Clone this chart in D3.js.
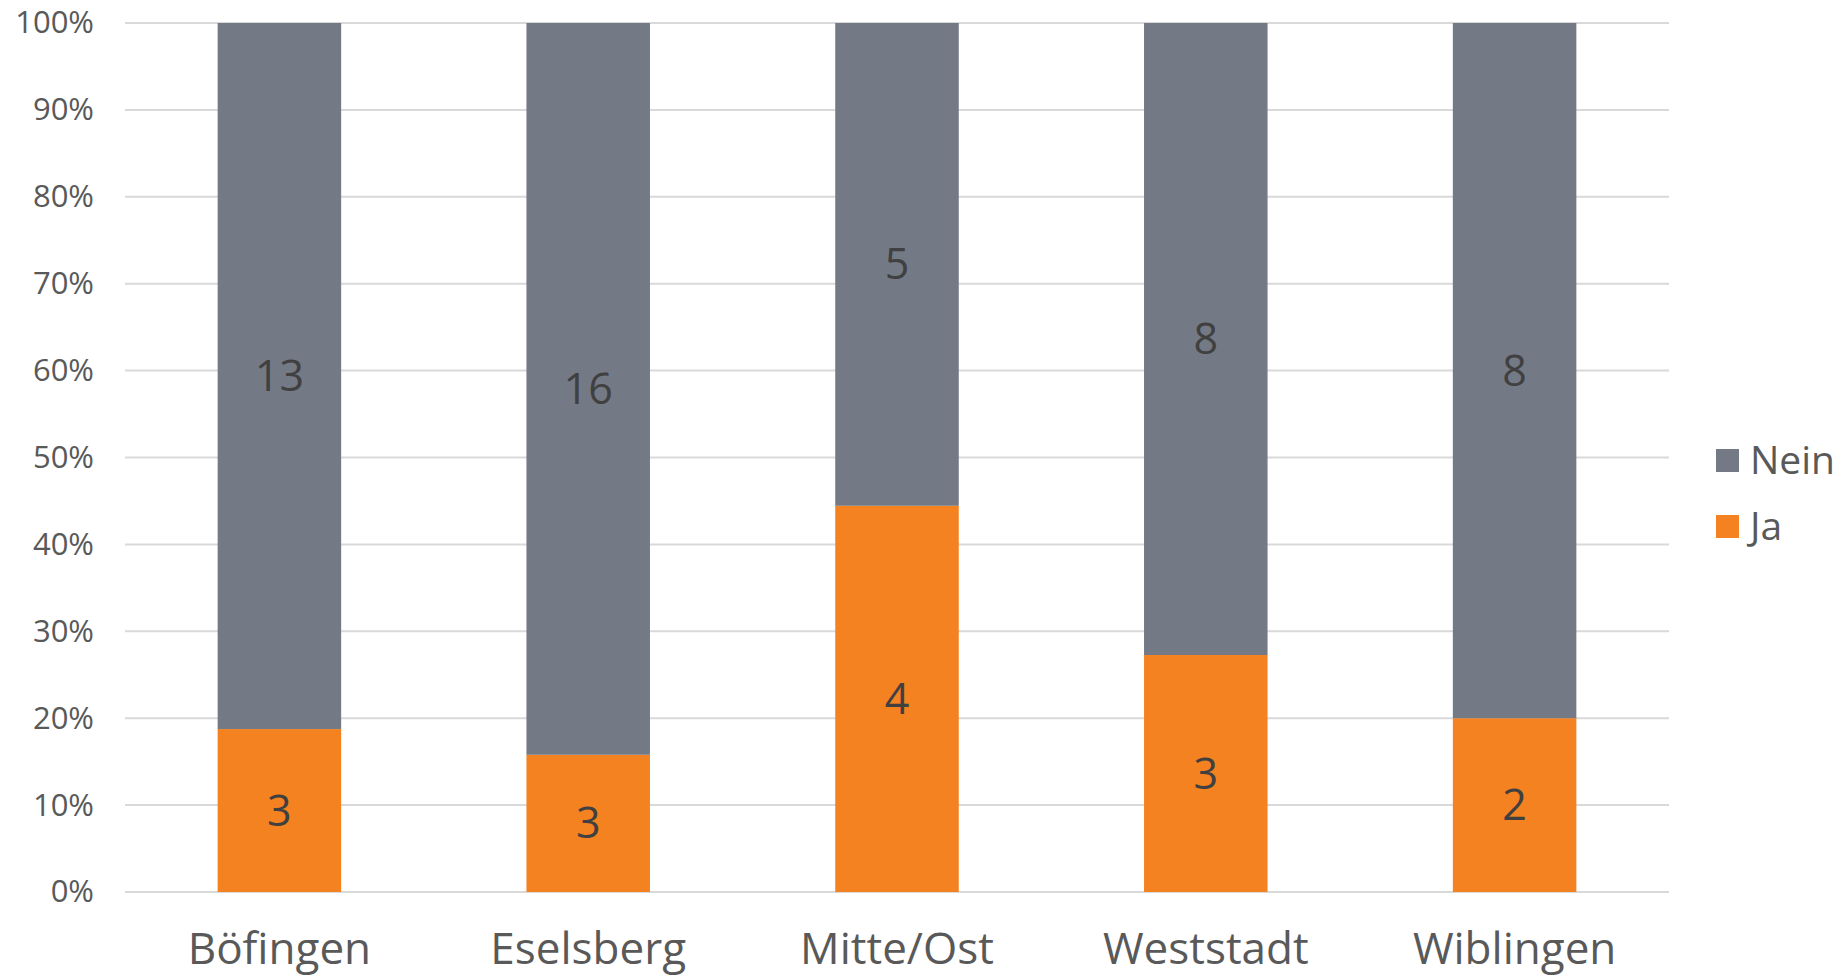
<!DOCTYPE html>
<html>
<head>
<meta charset="utf-8">
<script src="https://cdn.jsdelivr.net/npm/d3@7"></script>
<style>
  body { margin: 0; background: #fff; }
  svg { font-family: "Open Sans", "Noto Sans", sans-serif; }
</style>
</head>
<body>
<svg id="chart"></svg>
<script>
// data
const districts = ["Böfingen", "Eselsberg", "Mitte/Ost", "Weststadt", "Wiblingen"]
const ja = [3, 3, 4, 3, 2]
const nein = [13, 16, 5, 8, 8]
const yTicks = [0, 0.1, 0.2, 0.3, 0.4, 0.5, 0.6, 0.7, 0.8, 0.9, 1]
const seriesNames = ["Ja", "Nein"]
const colors = {Ja: "#f58220", Nein: "#747a85"}

const width = 1842
const height = 976
const margin = {top: 23, left: 125, right: 173, bottom: 84}

const svg = d3.select("#chart").attr("width", width).attr("height", height)

const rows = districts.map((d, i) => ({district: d, Ja: ja[i], Nein: nein[i]}))
const stacked = d3.stack().keys(seriesNames).offset(d3.stackOffsetExpand)(rows)

const x = d3.scaleBand().domain(districts)
    .range([margin.left, width - margin.right])
    .paddingInner(0.6).paddingOuter(0.3)
const y = d3.scaleLinear().domain([0, 1]).range([height - margin.bottom, margin.top])

// gridlines
svg.append("g")
    .selectAll("line").data(yTicks).join("line")
    .attr("x1", margin.left).attr("x2", width - margin.right)
    .attr("y1", d => y(d)).attr("y2", d => y(d))
    .attr("stroke", "#d9d9d9").attr("stroke-width", 2)

// y axis labels
const yAxis = d3.axisLeft(y).tickValues(yTicks).tickFormat(d3.format(".0%")).tickSize(0).tickPadding(31)
svg.append("g")
    .attr("transform", `translate(${margin.left},0)`)
    .call(yAxis)
    .call(g => g.select(".domain").remove())
    .selectAll("text")
    .attr("font-size", 31).attr("fill", "#595959").attr("font-family", "Open Sans")

// bars
const layers = svg.append("g").selectAll("g").data(stacked).join("g")
    .attr("fill", d => colors[d.key])
layers.selectAll("rect").data(d => d).join("rect")
    .attr("x", d => x(d.data.district))
    .attr("width", x.bandwidth())
    .attr("y", d => y(d[1]))
    .attr("height", d => y(d[0]) - y(d[1]))

// value labels
const labels = svg.append("g").selectAll("g").data(stacked).join("g")
labels.each(function(layer) {
    d3.select(this).selectAll("text").data(layer).join("text")
        .attr("x", d => x(d.data.district) + x.bandwidth() / 2)
        .attr("y", d => y((d[0] + d[1]) / 2))
        .attr("dy", "0.35em")
        .attr("text-anchor", "middle")
        .attr("font-size", 43).attr("fill", "#404040")
        .text(d => d.data[layer.key])
})

// x axis labels
const xAxis = d3.axisBottom(x).tickSize(0).tickPadding(41)
svg.append("g")
    .attr("transform", `translate(0,${height - margin.bottom})`)
    .call(xAxis)
    .call(g => g.select(".domain").remove())
    .selectAll("text")
    .attr("font-size", 44).attr("fill", "#595959").attr("font-family", "Open Sans")

// legend
const legendItems = ["Nein", "Ja"]
const legend = svg.append("g").attr("transform", "translate(1716,449)")
const li = legend.selectAll("g").data(legendItems).join("g")
    .attr("transform", (d, i) => `translate(0,${i * 66})`)
li.append("rect").attr("width", 23).attr("height", 23).attr("fill", d => colors[d])
li.append("text").attr("x", 34).attr("y", 11).attr("dy", "0.35em")
    .attr("font-size", 39).attr("fill", "#595959").text(d => d)
</script>
</body>
</html>
